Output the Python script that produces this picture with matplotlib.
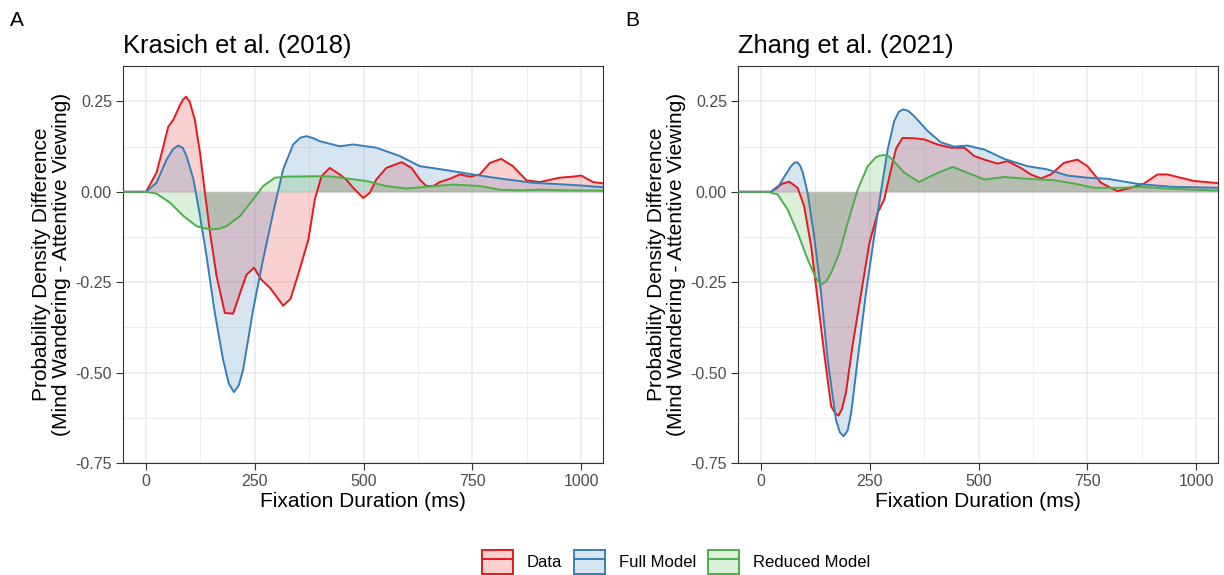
import matplotlib
matplotlib.use("Agg")
import matplotlib.pyplot as plt
from matplotlib.patches import Patch
from matplotlib.lines import Line2D
import numpy as np

plt.rcParams['font.family'] = ['Liberation Sans', 'DejaVu Sans']

# ---------------- data: Krasich et al. (2018) ----------------
a_data_x = [-60, 0, 24, 36, 51, 63, 78, 85, 92, 100, 112, 124, 135, 147, 162, 181, 200, 216, 231, 248, 265,
            285, 300, 315, 332, 353, 373, 388, 403, 422, 445, 460, 476, 499, 514, 529, 552, 587,
            610, 629, 644, 660, 675, 698, 721, 744, 767, 790, 816, 843, 874, 905, 950, 981, 1000,
            1027, 1060]
a_data_y = [0, 0, 0.053, 0.108, 0.18, 0.20, 0.24, 0.255, 0.263, 0.25, 0.20, 0.108, 0.0, -0.113, -0.233, -0.335,
            -0.337, -0.28, -0.229, -0.21, -0.243, -0.266, -0.29, -0.315, -0.296, -0.215, -0.132,
            -0.02, 0.043, 0.066, 0.048, 0.034, 0.011, -0.017, -0.003, 0.034, 0.066, 0.082, 0.066,
            0.034, 0.016, 0.016, 0.027, 0.036, 0.048, 0.042, 0.048, 0.080, 0.091, 0.071, 0.032,
            0.027, 0.039, 0.042, 0.045, 0.027, 0.022]
a_full_x = [-60, 0, 24, 47, 62, 74, 84, 93, 109, 124, 139, 158, 177, 190, 202, 213, 223, 246, 269, 292,
            315, 338, 355, 369, 385, 399, 445, 476, 529, 583, 629, 690, 751, 812, 889, 981, 1060]
a_full_y = [0, 0, 0.025, 0.089, 0.118, 0.128, 0.122, 0.099, 0.034, -0.067, -0.178, -0.335, -0.464,
            -0.53, -0.554, -0.535, -0.492, -0.326, -0.187, -0.058, 0.062, 0.131, 0.150, 0.154, 0.148,
            0.140, 0.126, 0.131, 0.122, 0.099, 0.071, 0.060, 0.048, 0.037, 0.025, 0.019, 0.012]
a_red_x = [-60, 0, 24, 55, 86, 116, 135, 151, 168, 185, 216, 246, 269, 296, 323, 392, 422, 460, 506,
           552, 598, 644, 705, 767, 812, 858, 905, 966, 1060]
a_red_y = [0, 0, -0.005, -0.03, -0.067, -0.095, -0.101, -0.104, -0.102, -0.095, -0.067, -0.021,
           0.016, 0.039, 0.042, 0.043, 0.043, 0.037, 0.030, 0.016, 0.009, 0.014, 0.020, 0.016,
           0.006, 0.004, 0.006, 0.004, 0.003]

# ---------------- data: Zhang et al. (2021) ----------------
b_data_x = [-60, 23, 34, 50, 65, 84, 99, 115, 130, 145, 161, 170, 178, 186, 195, 210, 230, 249, 268,
            283, 295, 310, 325, 352, 375, 405, 436, 467, 490, 513, 543, 566, 597, 620, 643, 666,
            696, 727, 750, 781, 819, 849, 880, 911, 934, 964, 995, 1060]
b_data_y = [0, 0, 0.011, 0.023, 0.028, 0.011, -0.04, -0.150, -0.298, -0.446, -0.593, -0.612,
            -0.619, -0.600, -0.556, -0.427, -0.280, -0.141, -0.058, -0.021, 0.043, 0.119, 0.149,
            0.148, 0.145, 0.131, 0.122, 0.122, 0.099, 0.089, 0.078, 0.085, 0.066, 0.048, 0.037,
            0.048, 0.080, 0.089, 0.071, 0.025, 0.002, 0.011, 0.023, 0.048, 0.048, 0.039, 0.030,
            0.023]
b_full_x = [-60, 23, 38, 54, 69, 76, 83, 90, 96, 107, 122, 138, 153, 172, 181, 190, 199, 207, 222,
            241, 260, 275, 291, 306, 317, 327, 338, 352, 383, 413, 444, 474, 513, 559, 612, 658,
            704, 750, 796, 865, 941, 1060]
b_full_y = [0, 0, 0.011, 0.043, 0.071, 0.080, 0.082, 0.072, 0.053, -0.003, -0.123, -0.280, -0.464,
            -0.630, -0.665, -0.676, -0.660, -0.612, -0.464, -0.280, -0.123, -0.003, 0.117, 0.196,
            0.222, 0.228, 0.224, 0.209, 0.168, 0.137, 0.125, 0.128, 0.117, 0.091, 0.071, 0.062,
            0.045, 0.039, 0.036, 0.022, 0.014, 0.011]
b_red_x = [-60, 15, 38, 61, 84, 107, 126, 133, 141, 150, 161, 180, 199, 222, 245, 264, 273, 283, 292,
           302, 329, 363, 398, 440, 474, 513, 559, 612, 673, 719, 765, 826, 872, 934, 1060]
b_red_y = [0, 0, -0.007, -0.049, -0.113, -0.187, -0.238, -0.250, -0.255, -0.247, -0.224, -0.169,
           -0.086, 0.006, 0.071, 0.096, 0.100, 0.102, 0.099, 0.089, 0.053, 0.027, 0.048, 0.069,
           0.053, 0.034, 0.041, 0.036, 0.032, 0.023, 0.011, 0.011, 0.014, 0.009, 0.003]

series_names = ["Data", "Full Model", "Reduced Model"]
colors = ["#E41A1C", "#377EB8", "#4DAF4A"]
titles = ["Krasich et al. (2018)", "Zhang et al. (2021)"]
panel_letters = ["A", "B"]
x_ticks = [0, 250, 500, 750, 1000]
y_ticks = [0.25, 0.0, -0.25, -0.5, -0.75]
y_ticklabels = ["0.25", "0.00", "-0.25", "-0.50", "-0.75"]

panels = [
    [(a_data_x, a_data_y), (a_full_x, a_full_y), (a_red_x, a_red_y)],
    [(b_data_x, b_data_y), (b_full_x, b_full_y), (b_red_x, b_red_y)],
]

W, H = 1224, 575
fig = plt.figure(figsize=(W / 100, H / 100), dpi=100)

axes_px = [(123, 603), (738, 1218)]
top_px, bot_px = 66, 463

for i, (l, r) in enumerate(axes_px):
    ax = fig.add_axes([l / W, 1 - bot_px / H, (r - l) / W, (bot_px - top_px) / H])
    ax.set_xlim(-53, 1050)
    ax.set_ylim(-0.75, 0.348)
    # grid
    for v in [125, 375, 625, 875]:
        ax.axvline(v, color="#EBEBEB", lw=0.6, zorder=0)
    for v in [0.125, -0.125, -0.375, -0.625]:
        ax.axhline(v, color="#EBEBEB", lw=0.6, zorder=0)
    for v in x_ticks:
        ax.axvline(v, color="#EBEBEB", lw=1.2, zorder=0)
    for v in y_ticks:
        ax.axhline(v, color="#EBEBEB", lw=1.2, zorder=0)
    for (xs, ys), c in zip(panels[i], colors):
        ax.fill_between(xs, 0, ys, color=c, alpha=0.2, lw=0, zorder=2)
    for (xs, ys), c in zip(panels[i], colors):
        ax.plot(xs, ys, color=c, lw=1.4, zorder=3)
    ax.set_xticks(x_ticks)
    ax.set_xticklabels([str(v) for v in x_ticks])
    ax.set_yticks(y_ticks)
    ax.set_yticklabels(y_ticklabels)
    ax.tick_params(axis="both", colors="#333333", labelcolor="#4D4D4D", labelsize=11.5,
                   length=5, width=0.8, pad=3)
    for sp in ax.spines.values():
        sp.set_color("#333333")
        sp.set_linewidth(0.8)
    ax.set_xlabel("Fixation Duration (ms)", fontsize=15, labelpad=2)
    ax.set_ylabel("Probability Density Difference\n(Mind Wandering - Attentive Viewing)",
                  fontsize=15, linespacing=1.08)
    ax.yaxis.set_label_coords(-0.108, 0.5)
    ax.set_title(titles[i], loc="left", fontsize=18.4, pad=9)
    fig.text((10 if i == 0 else 625) / W, 1 - 21 / H, panel_letters[i], fontsize=15,
             ha="left", va="center")

handles = []
for c in colors:
    handles.append((Patch(facecolor=matplotlib.colors.to_rgba(c, 0.2), edgecolor=c, lw=1.4),
                    Line2D([], [], color=c, lw=1.4)))
fig.legend(handles, series_names, loc="center", bbox_to_anchor=(676 / W, 1 - 562 / H), ncol=3,
           frameon=False, fontsize=12, handlelength=1.86, handleheight=1.8, columnspacing=0.72,
           handletextpad=0.84, borderpad=0, borderaxespad=0)

fig.savefig("out.png", dpi=100)
